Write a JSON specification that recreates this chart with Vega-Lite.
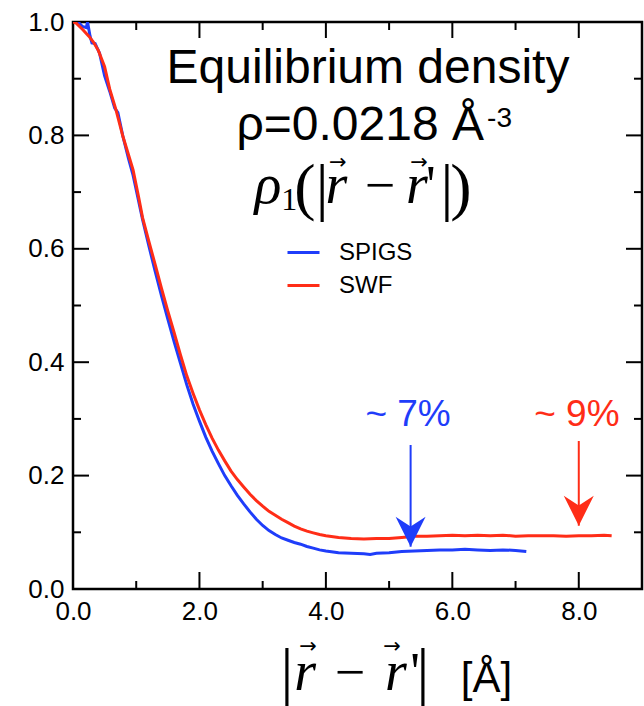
{
  "$schema": "https://vega.github.io/schema/vega-lite/v6.json",
  "width": 569,
  "height": 567,
  "autosize": {"type": "none"},
  "padding": {"left": 73, "top": 22, "right": 2, "bottom": 117},
  "background": "white",
  "config": {
    "view": {"stroke": "black", "strokeWidth": 2.5},
    "axis": {"labelFont": "Liberation Sans", "labelFontSize": 26, "labelColor": "black", "domain": false, "grid": false, "ticks": false, "labelFlush": false, "labelOverlap": false},
    "text": {"clip": false}
  },
  "datasets": {
    "curves": [
      {"series": "SPIGS", "r": 0.08, "rho": 1.0},
      {"series": "SPIGS", "r": 0.15, "rho": 0.992},
      {"series": "SPIGS", "r": 0.21, "rho": 0.99},
      {"series": "SPIGS", "r": 0.23, "rho": 1.0},
      {"series": "SPIGS", "r": 0.27, "rho": 0.975},
      {"series": "SPIGS", "r": 0.3, "rho": 0.963},
      {"series": "SPIGS", "r": 0.35, "rho": 0.962},
      {"series": "SPIGS", "r": 0.42, "rho": 0.945},
      {"series": "SPIGS", "r": 0.5, "rho": 0.905},
      {"series": "SPIGS", "r": 0.58, "rho": 0.878},
      {"series": "SPIGS", "r": 0.66, "rho": 0.848},
      {"series": "SPIGS", "r": 0.71, "rho": 0.84},
      {"series": "SPIGS", "r": 0.79, "rho": 0.798},
      {"series": "SPIGS", "r": 0.88, "rho": 0.758},
      {"series": "SPIGS", "r": 0.95, "rho": 0.73},
      {"series": "SPIGS", "r": 1.04, "rho": 0.683},
      {"series": "SPIGS", "r": 1.1, "rho": 0.652},
      {"series": "SPIGS", "r": 1.2, "rho": 0.605},
      {"series": "SPIGS", "r": 1.3, "rho": 0.56},
      {"series": "SPIGS", "r": 1.4, "rho": 0.517},
      {"series": "SPIGS", "r": 1.5, "rho": 0.476},
      {"series": "SPIGS", "r": 1.6, "rho": 0.436},
      {"series": "SPIGS", "r": 1.7, "rho": 0.398},
      {"series": "SPIGS", "r": 1.8, "rho": 0.36},
      {"series": "SPIGS", "r": 1.9, "rho": 0.326},
      {"series": "SPIGS", "r": 2.0, "rho": 0.296},
      {"series": "SPIGS", "r": 2.1, "rho": 0.268},
      {"series": "SPIGS", "r": 2.2, "rho": 0.243},
      {"series": "SPIGS", "r": 2.3, "rho": 0.221},
      {"series": "SPIGS", "r": 2.4, "rho": 0.2},
      {"series": "SPIGS", "r": 2.5, "rho": 0.182},
      {"series": "SPIGS", "r": 2.6, "rho": 0.165},
      {"series": "SPIGS", "r": 2.7, "rho": 0.15},
      {"series": "SPIGS", "r": 2.8, "rho": 0.136},
      {"series": "SPIGS", "r": 2.9, "rho": 0.123},
      {"series": "SPIGS", "r": 3.0, "rho": 0.112},
      {"series": "SPIGS", "r": 3.1, "rho": 0.103},
      {"series": "SPIGS", "r": 3.2, "rho": 0.096},
      {"series": "SPIGS", "r": 3.3, "rho": 0.09},
      {"series": "SPIGS", "r": 3.4, "rho": 0.086},
      {"series": "SPIGS", "r": 3.5, "rho": 0.082},
      {"series": "SPIGS", "r": 3.6, "rho": 0.079},
      {"series": "SPIGS", "r": 3.7, "rho": 0.075},
      {"series": "SPIGS", "r": 3.8, "rho": 0.072},
      {"series": "SPIGS", "r": 3.9, "rho": 0.069},
      {"series": "SPIGS", "r": 4.0, "rho": 0.067},
      {"series": "SPIGS", "r": 4.2, "rho": 0.064},
      {"series": "SPIGS", "r": 4.4, "rho": 0.063},
      {"series": "SPIGS", "r": 4.6, "rho": 0.062},
      {"series": "SPIGS", "r": 4.7, "rho": 0.061},
      {"series": "SPIGS", "r": 4.8, "rho": 0.063},
      {"series": "SPIGS", "r": 5.0, "rho": 0.064},
      {"series": "SPIGS", "r": 5.2, "rho": 0.066},
      {"series": "SPIGS", "r": 5.4, "rho": 0.067},
      {"series": "SPIGS", "r": 5.6, "rho": 0.068},
      {"series": "SPIGS", "r": 5.8, "rho": 0.069},
      {"series": "SPIGS", "r": 6.0, "rho": 0.069},
      {"series": "SPIGS", "r": 6.2, "rho": 0.07},
      {"series": "SPIGS", "r": 6.4, "rho": 0.069},
      {"series": "SPIGS", "r": 6.6, "rho": 0.068},
      {"series": "SPIGS", "r": 6.8, "rho": 0.069},
      {"series": "SPIGS", "r": 7.0, "rho": 0.068},
      {"series": "SPIGS", "r": 7.17, "rho": 0.066},
      {"series": "SWF", "r": 0.0, "rho": 1.0},
      {"series": "SWF", "r": 0.05, "rho": 0.998},
      {"series": "SWF", "r": 0.16, "rho": 0.986},
      {"series": "SWF", "r": 0.25, "rho": 0.975},
      {"series": "SWF", "r": 0.32, "rho": 0.965},
      {"series": "SWF", "r": 0.4, "rho": 0.95},
      {"series": "SWF", "r": 0.5, "rho": 0.921},
      {"series": "SWF", "r": 0.58, "rho": 0.882},
      {"series": "SWF", "r": 0.68, "rho": 0.845},
      {"series": "SWF", "r": 0.79, "rho": 0.798},
      {"series": "SWF", "r": 0.88, "rho": 0.765},
      {"series": "SWF", "r": 0.95, "rho": 0.739},
      {"series": "SWF", "r": 1.04, "rho": 0.69},
      {"series": "SWF", "r": 1.1, "rho": 0.655},
      {"series": "SWF", "r": 1.2, "rho": 0.613},
      {"series": "SWF", "r": 1.3, "rho": 0.572},
      {"series": "SWF", "r": 1.4, "rho": 0.53},
      {"series": "SWF", "r": 1.5, "rho": 0.49},
      {"series": "SWF", "r": 1.6, "rho": 0.452},
      {"series": "SWF", "r": 1.7, "rho": 0.413},
      {"series": "SWF", "r": 1.8, "rho": 0.376},
      {"series": "SWF", "r": 1.9, "rho": 0.345},
      {"series": "SWF", "r": 2.0, "rho": 0.316},
      {"series": "SWF", "r": 2.1, "rho": 0.29},
      {"series": "SWF", "r": 2.2, "rho": 0.266},
      {"series": "SWF", "r": 2.3, "rho": 0.245},
      {"series": "SWF", "r": 2.4, "rho": 0.226},
      {"series": "SWF", "r": 2.5, "rho": 0.208},
      {"series": "SWF", "r": 2.6, "rho": 0.193},
      {"series": "SWF", "r": 2.7, "rho": 0.18},
      {"series": "SWF", "r": 2.8, "rho": 0.167},
      {"series": "SWF", "r": 2.9, "rho": 0.156},
      {"series": "SWF", "r": 3.0, "rho": 0.146},
      {"series": "SWF", "r": 3.1, "rho": 0.137},
      {"series": "SWF", "r": 3.2, "rho": 0.13},
      {"series": "SWF", "r": 3.3, "rho": 0.123},
      {"series": "SWF", "r": 3.4, "rho": 0.117},
      {"series": "SWF", "r": 3.5, "rho": 0.111},
      {"series": "SWF", "r": 3.6, "rho": 0.106},
      {"series": "SWF", "r": 3.7, "rho": 0.102},
      {"series": "SWF", "r": 3.8, "rho": 0.099},
      {"series": "SWF", "r": 3.9, "rho": 0.096},
      {"series": "SWF", "r": 4.0, "rho": 0.094},
      {"series": "SWF", "r": 4.2, "rho": 0.091},
      {"series": "SWF", "r": 4.4, "rho": 0.089},
      {"series": "SWF", "r": 4.6, "rho": 0.088},
      {"series": "SWF", "r": 4.8, "rho": 0.089},
      {"series": "SWF", "r": 5.0, "rho": 0.089},
      {"series": "SWF", "r": 5.2, "rho": 0.091},
      {"series": "SWF", "r": 5.4, "rho": 0.093},
      {"series": "SWF", "r": 5.6, "rho": 0.093},
      {"series": "SWF", "r": 5.8, "rho": 0.094},
      {"series": "SWF", "r": 6.0, "rho": 0.095},
      {"series": "SWF", "r": 6.2, "rho": 0.094},
      {"series": "SWF", "r": 6.4, "rho": 0.095},
      {"series": "SWF", "r": 6.6, "rho": 0.094},
      {"series": "SWF", "r": 6.8, "rho": 0.095},
      {"series": "SWF", "r": 7.0, "rho": 0.093},
      {"series": "SWF", "r": 7.2, "rho": 0.094},
      {"series": "SWF", "r": 7.4, "rho": 0.094},
      {"series": "SWF", "r": 7.6, "rho": 0.094},
      {"series": "SWF", "r": 7.8, "rho": 0.093},
      {"series": "SWF", "r": 8.0, "rho": 0.094},
      {"series": "SWF", "r": 8.2, "rho": 0.094},
      {"series": "SWF", "r": 8.4, "rho": 0.095},
      {"series": "SWF", "r": 8.52, "rho": 0.094}
    ],
    "xMajorBottom": [{"v": 2, "edge": 0}, {"v": 4, "edge": 0}, {"v": 6, "edge": 0}, {"v": 8, "edge": 0}],
    "xMajorTop": [{"v": 2, "edge": 1}, {"v": 4, "edge": 1}, {"v": 6, "edge": 1}, {"v": 8, "edge": 1}],
    "xMinorBottom": [{"v": 1, "edge": 0}, {"v": 3, "edge": 0}, {"v": 5, "edge": 0}, {"v": 7, "edge": 0}],
    "xMinorTop": [{"v": 1, "edge": 1}, {"v": 3, "edge": 1}, {"v": 5, "edge": 1}, {"v": 7, "edge": 1}],
    "yMajorLeft": [{"v": 0.2, "edge": 0}, {"v": 0.4, "edge": 0}, {"v": 0.6, "edge": 0}, {"v": 0.8, "edge": 0}],
    "yMajorRight": [{"v": 0.2, "edge": 9}, {"v": 0.4, "edge": 9}, {"v": 0.6, "edge": 9}, {"v": 0.8, "edge": 9}],
    "yMinorLeft": [{"v": 0.1, "edge": 0}, {"v": 0.3, "edge": 0}, {"v": 0.5, "edge": 0}, {"v": 0.7, "edge": 0}, {"v": 0.9, "edge": 0}],
    "yMinorRight": [{"v": 0.1, "edge": 9}, {"v": 0.3, "edge": 9}, {"v": 0.5, "edge": 9}, {"v": 0.7, "edge": 9}, {"v": 0.9, "edge": 9}],
    "arrowBlue": [{"r": 5.34, "top": 0.254, "tip": 0.0746}],
    "arrowRed": [{"r": 8.0, "top": 0.261, "tip": 0.1116}],
    "pctBlue": [{"r": 5.3, "y": 0.288, "label": "~ 7%"}],
    "pctRed": [{"r": 7.97, "y": 0.288, "label": "~ 9%"}],
    "title1": [{"r": 4.666, "y": 0.892, "label": "Equilibrium density"}],
    "title2": [{"r": 6.5, "y": 0.792, "label": "ρ=0.0218 Å"}],
    "title2sup": [{"r": 6.55, "y": 0.815, "label": "-3"}],
    "mathItalic": [
      {"r": 3.085, "y": 0.681, "label": "ρ"},
      {"r": 4.168, "y": 0.681, "label": "r"},
      {"r": 5.441, "y": 0.681, "label": "r"},
      {"r": 3.67, "y": -0.178, "label": "r"},
      {"r": 5.109, "y": -0.178, "label": "r"}
    ],
    "mathUpright": [
      {"r": 4.856, "y": 0.681, "label": "−"},
      {"r": 5.66, "y": 0.681, "label": "'"},
      {"r": 4.381, "y": -0.178, "label": "−"},
      {"r": 5.41, "y": -0.178, "label": "'"}
    ],
    "subscript": [{"r": 3.42, "y": 0.668, "label": "1"}],
    "delims": [
      {"r": 3.67, "y": 0.672, "label": "("},
      {"r": 3.94, "y": 0.672, "label": "|"},
      {"r": 5.916, "y": 0.672, "label": "|"},
      {"r": 6.137, "y": 0.672, "label": ")"},
      {"r": 3.385, "y": -0.181, "label": "|"},
      {"r": 5.536, "y": -0.181, "label": "|"}
    ],
    "vecArrows": [
      {"r": 4.19, "y": 0.751, "label": "→"},
      {"r": 5.473, "y": 0.751, "label": "→"},
      {"r": 3.717, "y": -0.102, "label": "→"},
      {"r": 5.046, "y": -0.102, "label": "→"}
    ],
    "unit": [{"r": 6.54, "y": -0.182, "label": "[Å]"}]
  },
  "layer": [
    {
      "data": {"name": "curves"},
      "mark": {"type": "line", "strokeWidth": 3, "clip": true},
      "encoding": {
        "x": {"field": "r", "type": "quantitative", "title": null, "scale": {"domain": [0, 9], "nice": false},
          "axis": {"orient": "bottom", "values": [0, 2, 4, 6, 8], "format": ".1f", "ticks": false, "labelPadding": 9, "title": null}},
        "y": {"field": "rho", "type": "quantitative", "title": null, "scale": {"domain": [0, 1], "nice": false},
          "axis": {"orient": "left", "values": [0, 0.2, 0.4, 0.6, 0.8, 1.0], "format": ".1f", "ticks": false, "labelPadding": 9, "title": null}},
        "color": {"field": "series", "type": "nominal",
          "scale": {"domain": ["SPIGS", "SWF"], "range": ["#1f3dfa", "#ff2d17"]},
          "legend": {"orient": "none", "legendX": 213, "legendY": 213, "title": null, "labelFont": "Liberation Sans", "labelFontSize": 24, "labelColor": "black",
            "symbolType": "stroke", "symbolSize": 1024, "symbolStrokeWidth": 3, "labelOffset": 18, "rowPadding": 3, "padding": 0}}
      }
    },
    {
      "data": {"name": "xMajorBottom"},
      "mark": {"type": "point", "shape": "M0,0L0,-2", "size": 289, "filled": false, "color": "black", "stroke": "black", "strokeWidth": 2, "opacity": 1},
      "encoding": {
        "x": {"field": "v", "type": "quantitative", "title": null, "scale": {"domain": [0, 9], "nice": false}},
        "y": {"field": "edge", "type": "quantitative", "title": null, "scale": {"domain": [0, 1], "nice": false}}
      }
    },
    {
      "data": {"name": "xMajorTop"},
      "mark": {"type": "point", "shape": "M0,0L0,2", "size": 256, "filled": false, "color": "black", "stroke": "black", "strokeWidth": 2, "opacity": 1},
      "encoding": {
        "x": {"field": "v", "type": "quantitative", "title": null, "scale": {"domain": [0, 9], "nice": false}},
        "y": {"field": "edge", "type": "quantitative", "title": null, "scale": {"domain": [0, 1], "nice": false}}
      }
    },
    {
      "data": {"name": "xMinorBottom"},
      "mark": {"type": "point", "shape": "M0,0L0,-2", "size": 64, "filled": false, "color": "black", "stroke": "black", "strokeWidth": 2, "opacity": 1},
      "encoding": {
        "x": {"field": "v", "type": "quantitative", "title": null, "scale": {"domain": [0, 9], "nice": false}},
        "y": {"field": "edge", "type": "quantitative", "title": null, "scale": {"domain": [0, 1], "nice": false}}
      }
    },
    {
      "data": {"name": "xMinorTop"},
      "mark": {"type": "point", "shape": "M0,0L0,2", "size": 64, "filled": false, "color": "black", "stroke": "black", "strokeWidth": 2, "opacity": 1},
      "encoding": {
        "x": {"field": "v", "type": "quantitative", "title": null, "scale": {"domain": [0, 9], "nice": false}},
        "y": {"field": "edge", "type": "quantitative", "title": null, "scale": {"domain": [0, 1], "nice": false}}
      }
    },
    {
      "data": {"name": "yMajorLeft"},
      "mark": {"type": "point", "shape": "M0,0L2,0", "size": 256, "filled": false, "color": "black", "stroke": "black", "strokeWidth": 2, "opacity": 1},
      "encoding": {
        "x": {"field": "edge", "type": "quantitative", "title": null, "scale": {"domain": [0, 9], "nice": false}},
        "y": {"field": "v", "type": "quantitative", "title": null, "scale": {"domain": [0, 1], "nice": false}}
      }
    },
    {
      "data": {"name": "yMajorRight"},
      "mark": {"type": "point", "shape": "M0,0L-2,0", "size": 256, "filled": false, "color": "black", "stroke": "black", "strokeWidth": 2, "opacity": 1},
      "encoding": {
        "x": {"field": "edge", "type": "quantitative", "title": null, "scale": {"domain": [0, 9], "nice": false}},
        "y": {"field": "v", "type": "quantitative", "title": null, "scale": {"domain": [0, 1], "nice": false}}
      }
    },
    {
      "data": {"name": "yMinorLeft"},
      "mark": {"type": "point", "shape": "M0,0L2,0", "size": 64, "filled": false, "color": "black", "stroke": "black", "strokeWidth": 2, "opacity": 1},
      "encoding": {
        "x": {"field": "edge", "type": "quantitative", "title": null, "scale": {"domain": [0, 9], "nice": false}},
        "y": {"field": "v", "type": "quantitative", "title": null, "scale": {"domain": [0, 1], "nice": false}}
      }
    },
    {
      "data": {"name": "yMinorRight"},
      "mark": {"type": "point", "shape": "M0,0L-2,0", "size": 64, "filled": false, "color": "black", "stroke": "black", "strokeWidth": 2, "opacity": 1},
      "encoding": {
        "x": {"field": "edge", "type": "quantitative", "title": null, "scale": {"domain": [0, 9], "nice": false}},
        "y": {"field": "v", "type": "quantitative", "title": null, "scale": {"domain": [0, 1], "nice": false}}
      }
    },
    {
      "data": {"name": "arrowBlue"},
      "mark": {"type": "rule", "color": "#1f3dfa", "strokeWidth": 2},
      "encoding": {
        "x": {"field": "r", "type": "quantitative", "title": null, "scale": {"domain": [0, 9], "nice": false}},
        "y": {"field": "top", "type": "quantitative", "title": null, "scale": {"domain": [0, 1], "nice": false}},
        "y2": {"field": "tip"}
      }
    },
    {
      "data": {"name": "arrowRed"},
      "mark": {"type": "rule", "color": "#ff2d17", "strokeWidth": 2},
      "encoding": {
        "x": {"field": "r", "type": "quantitative", "title": null, "scale": {"domain": [0, 9], "nice": false}},
        "y": {"field": "top", "type": "quantitative", "title": null, "scale": {"domain": [0, 1], "nice": false}},
        "y2": {"field": "tip"}
      }
    },
    {
      "data": {"name": "arrowBlue"},
      "mark": {"type": "point", "shape": "M0,0L-1,-2L0,-1.35L1,-2Z", "size": 900, "filled": true, "color": "#1f3dfa", "opacity": 1},
      "encoding": {
        "x": {"field": "r", "type": "quantitative", "title": null, "scale": {"domain": [0, 9], "nice": false}},
        "y": {"field": "tip", "type": "quantitative", "title": null, "scale": {"domain": [0, 1], "nice": false}}
      }
    },
    {
      "data": {"name": "arrowRed"},
      "mark": {"type": "point", "shape": "M0,0L-1,-2L0,-1.35L1,-2Z", "size": 900, "filled": true, "color": "#ff2d17", "opacity": 1},
      "encoding": {
        "x": {"field": "r", "type": "quantitative", "title": null, "scale": {"domain": [0, 9], "nice": false}},
        "y": {"field": "tip", "type": "quantitative", "title": null, "scale": {"domain": [0, 1], "nice": false}}
      }
    },
    {
      "data": {"name": "pctBlue"},
      "mark": {"type": "text", "font": "Liberation Sans", "fontSize": 37, "color": "#1f3dfa", "align": "center", "baseline": "alphabetic"},
      "encoding": {
        "x": {"field": "r", "type": "quantitative", "title": null, "scale": {"domain": [0, 9], "nice": false}},
        "y": {"field": "y", "type": "quantitative", "title": null, "scale": {"domain": [0, 1], "nice": false}},
        "text": {"field": "label"}
      }
    },
    {
      "data": {"name": "pctRed"},
      "mark": {"type": "text", "font": "Liberation Sans", "fontSize": 37, "color": "#ff2d17", "align": "center", "baseline": "alphabetic"},
      "encoding": {
        "x": {"field": "r", "type": "quantitative", "title": null, "scale": {"domain": [0, 9], "nice": false}},
        "y": {"field": "y", "type": "quantitative", "title": null, "scale": {"domain": [0, 1], "nice": false}},
        "text": {"field": "label"}
      }
    },
    {
      "data": {"name": "title1"},
      "mark": {"type": "text", "font": "Liberation Sans", "fontSize": 48, "color": "black", "align": "center", "baseline": "alphabetic"},
      "encoding": {
        "x": {"field": "r", "type": "quantitative", "title": null, "scale": {"domain": [0, 9], "nice": false}},
        "y": {"field": "y", "type": "quantitative", "title": null, "scale": {"domain": [0, 1], "nice": false}},
        "text": {"field": "label"}
      }
    },
    {
      "data": {"name": "title2"},
      "mark": {"type": "text", "font": "Liberation Sans", "fontSize": 48, "color": "black", "align": "right", "baseline": "alphabetic"},
      "encoding": {
        "x": {"field": "r", "type": "quantitative", "title": null, "scale": {"domain": [0, 9], "nice": false}},
        "y": {"field": "y", "type": "quantitative", "title": null, "scale": {"domain": [0, 1], "nice": false}},
        "text": {"field": "label"}
      }
    },
    {
      "data": {"name": "title2sup"},
      "mark": {"type": "text", "font": "Liberation Sans", "fontSize": 28, "color": "black", "align": "left", "baseline": "alphabetic"},
      "encoding": {
        "x": {"field": "r", "type": "quantitative", "title": null, "scale": {"domain": [0, 9], "nice": false}},
        "y": {"field": "y", "type": "quantitative", "title": null, "scale": {"domain": [0, 1], "nice": false}},
        "text": {"field": "label"}
      }
    },
    {
      "data": {"name": "mathItalic"},
      "mark": {"type": "text", "font": "Liberation Serif", "fontStyle": "italic", "fontSize": 56, "color": "black", "align": "center", "baseline": "alphabetic"},
      "encoding": {
        "x": {"field": "r", "type": "quantitative", "title": null, "scale": {"domain": [0, 9], "nice": false}},
        "y": {"field": "y", "type": "quantitative", "title": null, "scale": {"domain": [0, 1], "nice": false}},
        "text": {"field": "label"}
      }
    },
    {
      "data": {"name": "mathUpright"},
      "mark": {"type": "text", "font": "Liberation Serif", "fontSize": 54, "color": "black", "align": "center", "baseline": "alphabetic"},
      "encoding": {
        "x": {"field": "r", "type": "quantitative", "title": null, "scale": {"domain": [0, 9], "nice": false}},
        "y": {"field": "y", "type": "quantitative", "title": null, "scale": {"domain": [0, 1], "nice": false}},
        "text": {"field": "label"}
      }
    },
    {
      "data": {"name": "subscript"},
      "mark": {"type": "text", "font": "Liberation Serif", "fontSize": 32, "color": "black", "align": "center", "baseline": "alphabetic"},
      "encoding": {
        "x": {"field": "r", "type": "quantitative", "title": null, "scale": {"domain": [0, 9], "nice": false}},
        "y": {"field": "y", "type": "quantitative", "title": null, "scale": {"domain": [0, 1], "nice": false}},
        "text": {"field": "label"}
      }
    },
    {
      "data": {"name": "delims"},
      "mark": {"type": "text", "font": "Liberation Serif", "fontSize": 64, "color": "black", "align": "center", "baseline": "alphabetic"},
      "encoding": {
        "x": {"field": "r", "type": "quantitative", "title": null, "scale": {"domain": [0, 9], "nice": false}},
        "y": {"field": "y", "type": "quantitative", "title": null, "scale": {"domain": [0, 1], "nice": false}},
        "text": {"field": "label"}
      }
    },
    {
      "data": {"name": "vecArrows"},
      "mark": {"type": "text", "font": "DejaVu Sans", "fontSize": 21, "color": "black", "align": "center", "baseline": "middle"},
      "encoding": {
        "x": {"field": "r", "type": "quantitative", "title": null, "scale": {"domain": [0, 9], "nice": false}},
        "y": {"field": "y", "type": "quantitative", "title": null, "scale": {"domain": [0, 1], "nice": false}},
        "text": {"field": "label"}
      }
    },
    {
      "data": {"name": "unit"},
      "mark": {"type": "text", "font": "Liberation Sans", "fontSize": 42, "color": "black", "align": "center", "baseline": "alphabetic"},
      "encoding": {
        "x": {"field": "r", "type": "quantitative", "title": null, "scale": {"domain": [0, 9], "nice": false}},
        "y": {"field": "y", "type": "quantitative", "title": null, "scale": {"domain": [0, 1], "nice": false}},
        "text": {"field": "label"}
      }
    }
  ]
}
